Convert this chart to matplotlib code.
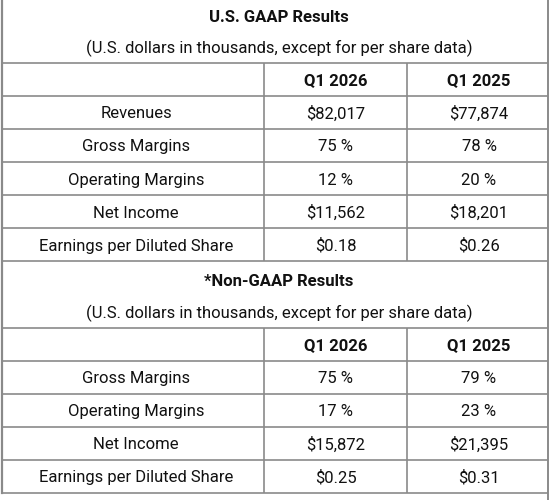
import matplotlib
matplotlib.use("Agg")
from matplotlib import pyplot as plt

# Tabelės duomenys
title_gaap = "U.S. GAAP Results"
title_non_gaap = "*Non-GAAP Results"
subtitle = "(U.S. dollars in thousands, except for per share data)"
periods = ["Q1 2026", "Q1 2025"]

gaap_rows = ["Revenues", "Gross Margins", "Operating Margins",
             "Net Income", "Earnings per Diluted Share"]
gaap_q1_2026 = ["$82,017", "75 %", "12 %", "$11,562", "$0.18"]
gaap_q1_2025 = ["$77,874", "78 %", "20 %", "$18,201", "$0.26"]

non_gaap_rows = ["Gross Margins", "Operating Margins",
                 "Net Income", "Earnings per Diluted Share"]
non_gaap_q1_2026 = ["75 %", "17 %", "$15,872", "$0.25"]
non_gaap_q1_2025 = ["79 %", "23 %", "$21,395", "$0.31"]

plt.rcParams["font.family"] = ["Roboto", "DejaVu Sans"]

W, H = 551, 500
fig = plt.figure(figsize=(W / 100, H / 100), dpi=100)
ax = fig.add_axes([0, 0, 1, 1])
ax.set_xlim(0, W)
ax.set_ylim(H, 0)
ax.axis("off")

line_color = "#8a8a8a"
text_color = "#111111"
fs = 12

# stulpelių ribos ir centrai
x_left, x_div1, x_div2, x_right = 2, 263.5, 407, 548
col_x = [136, 336, 479]
mid_x = 279
row_h = 33.1


def hline(y):
    ax.plot([x_left, x_right], [y, y], color=line_color, lw=1.2,
            solid_capstyle="butt")


def vline(y0, y1, x):
    ax.plot([x, x], [y0, y1], color=line_color, lw=1.2,
            solid_capstyle="butt")


def block(top, title, labels, vals_a, vals_b):
    # antraštė su paaiškinimu
    ax.text(mid_x, top + 20.5, title, ha="center", va="center",
            fontsize=fs, fontweight="bold", color=text_color)
    ax.text(mid_x, top + 52, subtitle, ha="center", va="center",
            fontsize=fs, color=text_color)
    y = top + 2 * row_h
    hline(y)
    # periodų eilutė
    ax.text(col_x[1], y + row_h / 2 + 1.5, periods[0], ha="center",
            va="center", fontsize=fs, fontweight="bold", color=text_color)
    ax.text(col_x[2], y + row_h / 2 + 1.5, periods[1], ha="center",
            va="center", fontsize=fs, fontweight="bold", color=text_color)
    y_start = y
    for lab, a, b in zip(labels, vals_a, vals_b):
        y += row_h
        hline(y)
        yc = y + row_h / 2 + 1.5
        ax.text(col_x[0], yc, lab, ha="center", va="center",
                fontsize=fs, color=text_color)
        ax.text(col_x[1], yc, a, ha="center", va="center",
                fontsize=fs, color=text_color)
        ax.text(col_x[2], yc, b, ha="center", va="center",
                fontsize=fs, color=text_color)
    y += row_h
    vline(y_start, y, x_div1)
    vline(y_start, y, x_div2)
    return y


top1 = 62.7 - 2 * row_h
end1 = block(top1, title_gaap, gaap_rows, gaap_q1_2026, gaap_q1_2025)
hline(end1)
end2 = block(end1, title_non_gaap, non_gaap_rows, non_gaap_q1_2026,
             non_gaap_q1_2025)
hline(end2)

# išoriniai rėmai
ax.plot([x_left, x_left], [0, end2], color=line_color, lw=1.6)
ax.plot([x_right, x_right], [0, H], color=line_color, lw=1.4)

fig.savefig("out.png", dpi=100)
